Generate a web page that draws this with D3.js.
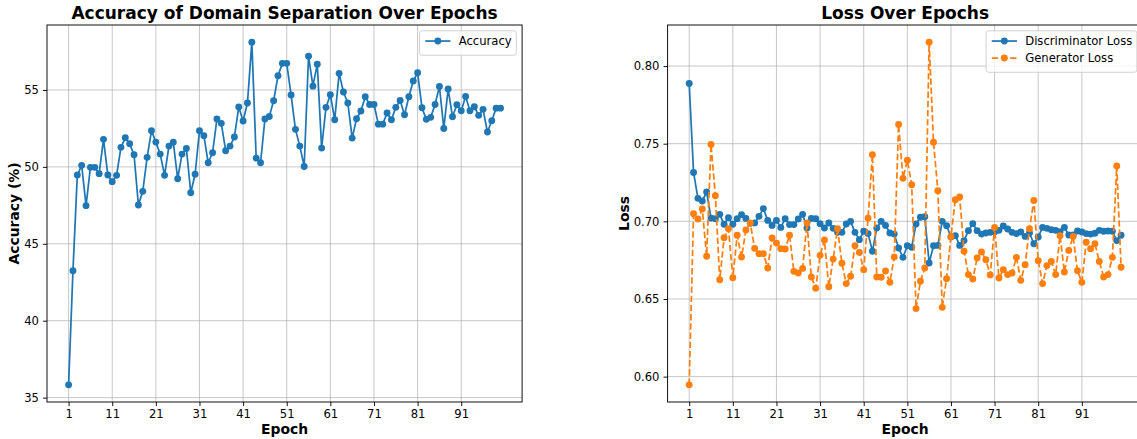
<!DOCTYPE html>
<html>
<head>
<meta charset="utf-8">
<script src="https://cdn.jsdelivr.net/npm/d3@7"></script>
<style>
  body { margin: 0; background: #ffffff; }
  text { font-family: "DejaVu Sans", sans-serif; fill: #000; }
</style>
</head>
<body>
<svg id="chart" width="1137" height="439"></svg>
<script>
// Training history, one value per epoch (1..100)
const epochs = d3.range(1, 101);

const accuracy = [
  35.83, 43.25, 49.47, 50.10, 47.48, 49.97, 49.97, 49.56, 51.79, 49.47,
  49.04, 49.45, 51.27, 51.89, 51.50, 50.79, 47.52, 48.41, 50.62, 52.35,
  51.61, 50.83, 49.45, 51.35, 51.60, 49.23, 50.83, 51.20, 48.32, 49.52,
  52.35, 52.03, 50.27, 50.92, 53.11, 52.83, 51.05, 51.35, 51.94, 53.89,
  52.98, 54.15, 58.11, 50.57, 50.27, 53.11, 53.28, 54.30, 55.92, 56.73,
  56.73, 54.67, 52.44, 51.35, 50.03, 57.20, 55.25, 56.68, 51.22, 53.87,
  54.69, 53.06, 56.08, 54.87, 54.15, 51.87, 53.13, 53.63, 54.56, 54.06,
  54.06, 52.78, 52.78, 53.50, 53.06, 53.87, 54.32, 53.39, 54.56, 55.58,
  56.12, 53.84, 53.09, 53.22, 54.06, 55.23, 52.50, 55.06, 53.26, 54.04,
  53.65, 54.58, 53.65, 53.91, 53.35, 53.74, 52.27, 53.00, 53.82, 53.82
];

const discriminatorLoss = [
  0.7888, 0.7315, 0.7148, 0.7131, 0.7189, 0.7021, 0.7017, 0.7045, 0.6981, 0.7023,
  0.6981, 0.7017, 0.7043, 0.7019, 0.6987, 0.6990, 0.7032, 0.7082, 0.7006, 0.6974,
  0.7006, 0.6961, 0.7017, 0.6979, 0.6979, 0.7015, 0.7045, 0.6957, 0.7019, 0.7017,
  0.6985, 0.6957, 0.6989, 0.6955, 0.6929, 0.6929, 0.6983, 0.7000, 0.6929, 0.6882,
  0.6936, 0.6921, 0.6807, 0.6957, 0.7000, 0.6974, 0.6925, 0.6918, 0.6828, 0.6768,
  0.6843, 0.6833, 0.6983, 0.7026, 0.7030, 0.6732, 0.6843, 0.6845, 0.7000, 0.6972,
  0.6899, 0.6908, 0.6845, 0.6876, 0.6940, 0.6985, 0.6940, 0.6918, 0.6925, 0.6929,
  0.6931, 0.6942, 0.6970, 0.6951, 0.6929, 0.6921, 0.6931, 0.6903, 0.6925, 0.6856,
  0.6899, 0.6961, 0.6955, 0.6946, 0.6942, 0.6933, 0.6961, 0.6912, 0.6912, 0.6938,
  0.6931, 0.6921, 0.6918, 0.6923, 0.6942, 0.6936, 0.6938, 0.6936, 0.6876, 0.6910
];

const generatorLoss = [
  0.5947, 0.7049, 0.7015, 0.7079, 0.6775, 0.7495, 0.7165, 0.6624, 0.6894, 0.6952,
  0.6637, 0.6910, 0.6770, 0.6944, 0.6989, 0.6826, 0.6792, 0.6792, 0.6700, 0.6893,
  0.6860, 0.6824, 0.6822, 0.6910, 0.6678, 0.6667, 0.6697, 0.6989, 0.6642, 0.6569,
  0.6781, 0.6880, 0.6579, 0.6757, 0.6953, 0.6730, 0.6599, 0.6646, 0.6843, 0.6800,
  0.6689, 0.7021, 0.7429, 0.6642, 0.6640, 0.6680, 0.6607, 0.6770, 0.7624, 0.7277,
  0.7394, 0.7236, 0.6438, 0.6614, 0.6700, 0.8154, 0.7510, 0.7197, 0.6446, 0.6631,
  0.6903, 0.7139, 0.7157, 0.6807, 0.6657, 0.6629, 0.6764, 0.6803, 0.6753, 0.6655,
  0.6961, 0.6635, 0.6689, 0.6657, 0.6667, 0.6768, 0.6620, 0.6721, 0.6953, 0.7135,
  0.6747, 0.6599, 0.6715, 0.6742, 0.6657, 0.6908, 0.6674, 0.6813, 0.6903, 0.6682,
  0.6607, 0.6865, 0.6824, 0.6856, 0.6742, 0.6642, 0.6657, 0.6768, 0.7356, 0.6704
];

const epochTicks = d3.range(1, 101, 10);
const accuracyTicks = [35, 40, 45, 50, 55];
const lossTicks = [0.60, 0.65, 0.70, 0.75, 0.80];

const BLUE = "#1f77b4";
const ORANGE = "#ff7f0e";

const svg = d3.select("#chart");
svg.append("rect").attr("width", 1137).attr("height", 439).attr("fill", "#fff");

const TICK_FONT = 11.6;
const LABEL_FONT = 13.9;
const TITLE_FONT = 17;
const LINE_W = 1.74;
const MARKER_R = 3.45;
const AX_W = 475.1;
const AX_TOP = 25, AX_BOTTOM = 402;

// same 5% padding on both sides as an autoscaled axis
function padded(values) {
  const [lo, hi] = d3.extent(values);
  const m = (hi - lo) * 0.05;
  return [lo - m, hi + m];
}

function drawPanel(opts) {
  const g = svg.append("g");
  const x = d3.scaleLinear().domain(padded(epochs)).range([opts.x0, opts.x0 + AX_W]);
  const allY = opts.series.flatMap(s => s.values);
  const y = d3.scaleLinear().domain(padded(allY)).range([AX_BOTTOM, AX_TOP]);

  // grid
  const grid = g.append("g").attr("stroke", "#b0b0b0").attr("stroke-opacity", 0.75).attr("stroke-width", 0.95);
  epochTicks.forEach(t => grid.append("line")
    .attr("x1", x(t)).attr("x2", x(t)).attr("y1", AX_TOP).attr("y2", AX_BOTTOM));
  opts.yTicks.forEach(t => grid.append("line")
    .attr("x1", opts.x0).attr("x2", opts.x0 + AX_W).attr("y1", y(t)).attr("y2", y(t)));

  // series
  opts.series.forEach(s => {
    const line = d3.line().x((d, i) => x(epochs[i])).y(d => y(d));
    g.append("path").datum(s.values)
      .attr("d", line).attr("fill", "none")
      .attr("stroke", s.color).attr("stroke-width", LINE_W)
      .attr("stroke-linejoin", "round")
      .attr("stroke-dasharray", s.dashed ? "6.4,2.8" : null);
    g.append("g").selectAll("circle").data(s.values).join("circle")
      .attr("cx", (d, i) => x(epochs[i])).attr("cy", d => y(d))
      .attr("r", MARKER_R).attr("fill", s.color);
  });

  // axes
  const xAxis = d3.axisBottom(x).tickValues(epochTicks).tickSizeOuter(0)
    .tickSize(4.06).tickPadding(4.06).tickFormat(d3.format("d"));
  const gx = g.append("g").attr("transform", `translate(0,${AX_BOTTOM})`).call(xAxis);
  const yAxis = d3.axisLeft(y).tickValues(opts.yTicks).tickSizeOuter(0)
    .tickSize(4.06).tickPadding(4.06).tickFormat(opts.yFormat);
  const gy = g.append("g").attr("transform", `translate(${opts.x0},0)`).call(yAxis);
  [gx, gy].forEach(a => {
    a.select(".domain").remove();
    a.selectAll("line").attr("stroke", "#000").attr("stroke-width", 0.93);
    a.selectAll("text").style("font-size", TICK_FONT + "px").attr("fill", "#000")
      .style("font-family", "'DejaVu Sans', sans-serif");
  });

  // frame
  g.append("rect").attr("x", opts.x0).attr("y", AX_TOP)
    .attr("width", AX_W).attr("height", AX_BOTTOM - AX_TOP)
    .attr("fill", "none").attr("stroke", "#000").attr("stroke-width", 0.93);

  // titles and axis labels
  g.append("text").attr("x", opts.x0 + AX_W / 2).attr("y", 19)
    .attr("text-anchor", "middle").style("font-size", TITLE_FONT + "px")
    .style("font-weight", "bold").text(opts.title);
  g.append("text").attr("x", opts.x0 + AX_W / 2).attr("y", 434)
    .attr("text-anchor", "middle").style("font-size", LABEL_FONT + "px")
    .style("font-weight", "bold").text("Epoch");
  g.append("text")
    .attr("transform", `translate(${opts.yLabelX},${(AX_TOP + AX_BOTTOM) / 2}) rotate(-90)`)
    .attr("text-anchor", "middle").style("font-size", LABEL_FONT + "px")
    .style("font-weight", "bold").text(opts.yLabel);

  // legend, upper right
  const em = TICK_FONT;
  const lg = g.append("g");
  const rowH = 17;
  const texts = opts.series.map((s, i) => lg.append("text")
    .attr("y", 0).style("font-size", em + "px").text(s.label));
  const textW = d3.max(texts, t => t.node().getComputedTextLength());
  const boxW = 0.4 * em * 2 + 2.0 * em + 0.8 * em + textW + 2;
  const boxH = 0.4 * em * 2 + rowH * opts.series.length - 0.5 * em + 4;
  const right = opts.x0 + AX_W - 0.5 * em;
  const top = AX_TOP + 0.5 * em;
  const left = right - boxW;
  lg.insert("rect", "text").attr("x", left).attr("y", top).attr("width", boxW).attr("height", boxH)
    .attr("rx", 2.5).attr("fill", "#fff").attr("fill-opacity", 0.8)
    .attr("stroke", "#cccccc").attr("stroke-width", 0.9);
  opts.series.forEach((s, i) => {
    const cy = top + 0.4 * em + 5.6 + i * rowH;
    const hx0 = left + 0.4 * em + 1, hx1 = hx0 + 2.0 * em + 2;
    lg.append("line").attr("x1", hx0).attr("x2", hx1).attr("y1", cy).attr("y2", cy)
      .attr("stroke", s.color).attr("stroke-width", LINE_W)
      .attr("stroke-dasharray", s.dashed ? "6.4,2.8" : null);
    lg.append("circle").attr("cx", (hx0 + hx1) / 2).attr("cy", cy).attr("r", MARKER_R).attr("fill", s.color);
    texts[i].attr("x", hx1 + 0.8 * em - 1).attr("y", cy + 4.2);
  });
}

drawPanel({
  x0: 47,
  title: "Accuracy of Domain Separation Over Epochs",
  yLabel: "Accuracy (%)",
  yLabelX: 19,
  yTicks: accuracyTicks,
  yFormat: d3.format("d"),
  series: [{ label: "Accuracy", values: accuracy, color: BLUE, dashed: false }]
});

drawPanel({
  x0: 667.6,
  title: "Loss Over Epochs",
  yLabel: "Loss",
  yLabelX: 629,
  yTicks: lossTicks,
  yFormat: d3.format(".2f"),
  series: [
    { label: "Discriminator Loss", values: discriminatorLoss, color: BLUE, dashed: false },
    { label: "Generator Loss", values: generatorLoss, color: ORANGE, dashed: true }
  ]
});
</script>
</body>
</html>
